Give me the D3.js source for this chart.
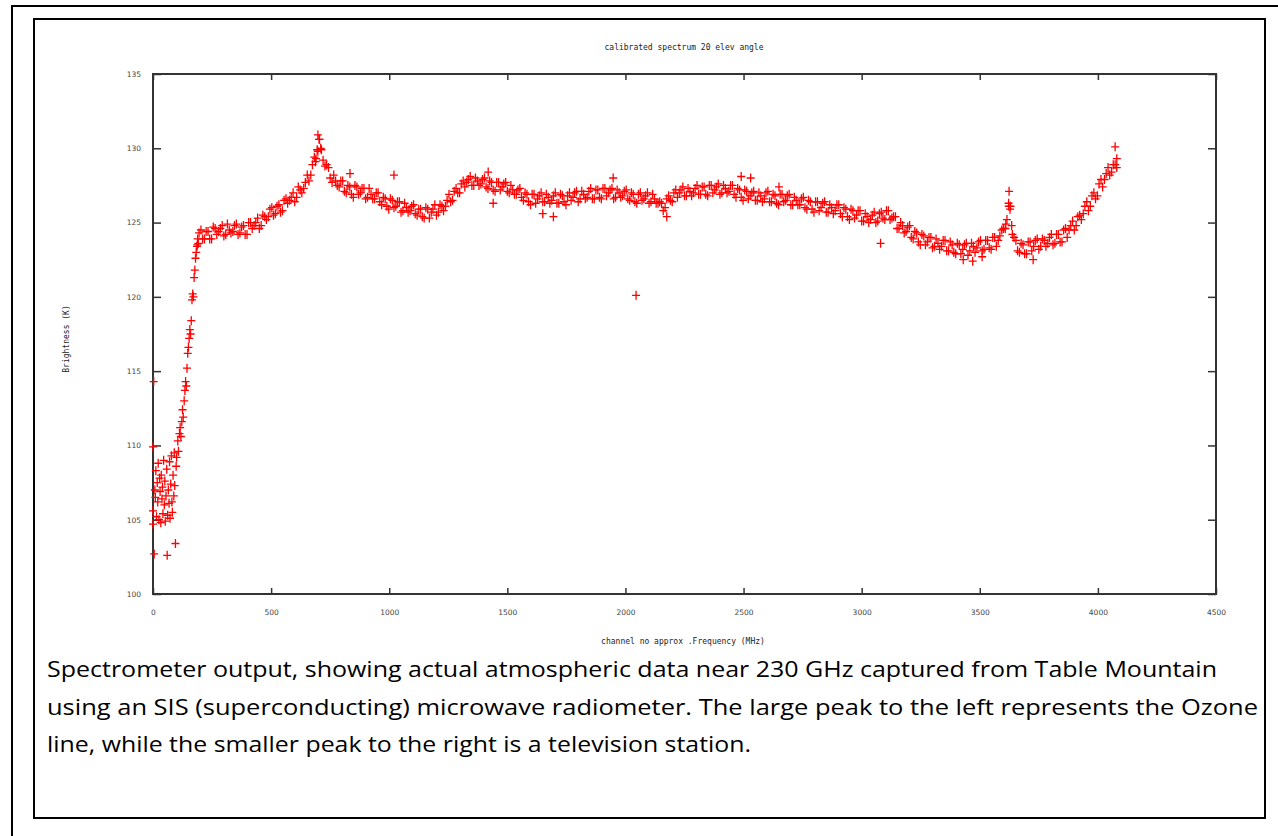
<!DOCTYPE html>
<html>
<head>
<meta charset="utf-8">
<script src="https://cdn.jsdelivr.net/npm/d3@7"></script>
<style>
  body { margin: 0; background: #fff; }
  svg { display: block; }
</style>
</head>
<body>
<div id="vis"></div>
<script>
var width = 1278;
var height = 836;

// axis ticks
var xTicks = [0, 500, 1000, 1500, 2000, 2500, 3000, 3500, 4000, 4500];
var yTicks = [100, 105, 110, 115, 120, 125, 130, 135];

// channels 0..192, the noisy low end and the steep ramp
var lowChannels = [0, 0, 0, 3, 5, 8, 10, 12, 15, 18, 20, 22, 25, 28, 30, 33, 35, 38, 40, 42,
  45, 48, 50, 52, 55, 58, 60, 62, 65, 68, 70, 72, 75, 78, 80, 82, 85, 88, 90, 92, 95, 98,
  100, 105, 108, 112, 115, 118, 122, 125, 128, 132, 135, 138, 141, 144, 147, 150, 153, 156,
  159, 162, 165, 168, 171, 174, 177, 180, 183, 186, 189, 192];
var lowBrightness = [109.9, 105.6, 104.7, 114.3, 102.7, 107.0, 106.5, 108.3, 105.2, 107.5,
  106.2, 108.8, 105.0, 107.8, 106.9, 104.8, 108.0, 106.4, 107.2, 105.4,
  109.0, 106.0, 107.6, 104.9, 106.6, 108.4, 102.6, 105.3, 107.0, 106.1,
  108.9, 105.1, 107.4, 109.3, 106.2, 105.5, 108.0, 106.6, 109.5, 107.3, 103.4, 108.6,
  109.2, 110.3, 109.6, 110.8, 111.2, 110.6, 111.6, 112.4, 111.9, 113.0, 113.7, 114.3,
  114.0, 115.2, 116.2, 116.6, 117.2, 117.8, 117.5, 118.4, 119.8, 120.2, 120.0, 121.3,
  121.8, 122.6, 123.0, 123.4, 123.9, 123.6];

// channels 195..4080, every 15th channel (ten per row)
var mainChannels = d3.range(195, 4081, 15);
var mainBrightness = [
  124.3, 123.9, 124.4, 123.9, 124.7, 124.2, 124.6, 124.1, 124.9, 124.3,
  124.8, 124.2, 124.7, 124.2, 125.0, 124.6, 125.0, 124.6, 125.5, 125.2,
  125.9, 125.5, 126.1, 125.7, 126.5, 126.3, 126.7, 126.4, 127.4, 127.0,
  127.7, 127.8, 128.9, 129.3, 130.6, 129.2, 128.9, 128.0, 128.2, 127.5,
  127.8, 127.1, 127.5, 126.9, 127.5, 126.9, 127.3, 126.6, 127.3, 126.6,
  127.0, 126.4, 126.7, 126.1, 126.6, 126.0, 126.4, 125.7, 126.3, 125.7,
  126.1, 125.6, 125.9, 125.4, 126.0, 125.3, 125.9, 125.5, 126.2, 125.8,
  126.5, 126.4, 127.1, 127.0, 127.6, 127.4, 127.9, 127.5, 128.0, 127.5,
  127.9, 127.4, 127.8, 127.2, 127.7, 127.2, 127.6, 127.1, 127.5, 126.9,
  127.2, 126.7, 127.0, 126.4, 126.9, 126.3, 126.8, 126.4, 126.9, 126.3,
  126.8, 126.3, 126.9, 126.4, 126.8, 126.5, 127.0, 126.4, 127.1, 126.6,
  127.1, 126.6, 127.2, 126.7, 127.3, 126.8, 127.2, 126.6, 127.2, 126.7,
  127.1, 126.6, 127.0, 126.4, 126.9, 126.5, 126.8, 126.3, 126.9, 126.3,
  126.4, 125.8, 126.6, 126.5, 127.0, 126.7, 127.2, 126.8, 127.3, 126.8,
  127.3, 126.9, 127.4, 126.9, 127.5, 127.0, 127.4, 126.9, 127.5, 127.0,
  127.5, 126.9, 127.3, 126.7, 127.2, 126.6, 127.0, 126.5, 127.0, 126.4,
  127.0, 126.4, 126.9, 126.3, 126.9, 126.4, 126.8, 126.2, 126.7, 126.2,
  126.6, 126.0, 126.5, 125.9, 126.4, 125.8, 126.3, 125.7, 126.2, 125.6,
  126.2, 125.6, 126.0, 125.4, 125.9, 125.3, 125.8, 125.1, 125.6, 125.0,
  125.5, 125.0, 125.6, 125.3, 125.8, 125.2, 125.4, 124.6, 125.0, 124.3,
  124.7, 124.0, 124.4, 123.7, 124.2, 123.5, 124.0, 123.3, 123.9, 123.2,
  123.8, 123.1, 123.7, 123.0, 123.6, 122.9, 123.5, 122.8, 123.6, 123.0,
  123.7, 123.1, 123.8, 123.3, 124.0, 123.4, 124.1, 124.6, 125.2, 126.1,
  124.0, 123.1, 123.6, 122.9, 123.7, 123.1, 123.8, 123.2, 123.9, 123.4,
  124.0, 123.5, 124.2, 123.7, 124.5, 124.0, 124.8, 124.5, 125.4, 125.2,
  126.1, 125.8, 126.8, 126.6, 127.6, 127.4, 128.3, 128.2, 128.9, 128.7
];

// channels 188..4073, the in-between channels (ten per row)
var midChannels = d3.range(188, 4074, 15);
var midBrightness = [
  123.5, 124.5, 123.9, 124.4, 123.9, 124.6, 124.4, 124.8, 124.2, 124.5,
  124.4, 124.9, 124.3, 124.8, 124.2, 125.0, 124.8, 125.3, 124.8, 125.4,
  125.4, 126.0, 125.6, 126.2, 125.8, 126.6, 126.5, 127.0, 126.7, 127.2,
  127.3, 128.2, 128.2, 129.4, 129.8, 129.9, 128.8, 128.7, 127.7, 127.8,
  127.4, 127.8, 127.0, 127.4, 126.7, 127.4, 127.0, 127.3, 126.7, 126.9,
  126.6, 127.0, 126.2, 126.6, 125.9, 126.5, 126.1, 126.4, 125.8, 126.0,
  125.8, 126.2, 125.5, 125.9, 125.3, 125.9, 125.7, 126.2, 125.7, 126.1,
  126.1, 126.9, 126.5, 127.3, 127.0, 127.8, 127.7, 128.1, 127.5, 127.8,
  127.6, 128.0, 127.3, 127.7, 127.1, 127.7, 127.4, 127.7, 127.0, 127.2,
  126.9, 127.3, 126.5, 126.9, 126.2, 126.9, 126.6, 127.0, 126.4, 126.7,
  126.5, 127.0, 126.3, 126.8, 126.2, 127.0, 126.7, 127.1, 126.6, 126.9,
  126.7, 127.3, 126.6, 127.2, 126.6, 127.3, 127.0, 127.3, 126.7, 127.0,
  126.8, 127.2, 126.5, 126.9, 126.3, 127.0, 126.6, 127.0, 126.4, 126.6,
  126.3, 126.3, 126.0, 126.8, 126.4, 127.2, 127.0, 127.4, 126.8, 127.1,
  127.0, 127.5, 126.9, 127.4, 126.8, 127.5, 127.2, 127.6, 127.0, 127.3,
  127.1, 127.5, 126.7, 127.2, 126.5, 127.1, 126.8, 127.1, 126.5, 126.8,
  126.6, 127.1, 126.4, 126.8, 126.2, 126.9, 126.5, 126.9, 126.2, 126.5,
  126.2, 126.7, 125.9, 126.4, 125.7, 126.4, 126.0, 126.4, 125.7, 126.0,
  125.8, 126.2, 125.4, 125.9, 125.2, 125.8, 125.5, 125.8, 125.1, 125.4,
  125.2, 125.7, 125.1, 125.7, 125.2, 125.8, 125.3, 125.4, 124.6, 124.8,
  124.4, 124.8, 123.9, 124.3, 123.5, 124.1, 123.7, 124.0, 123.4, 123.6,
  123.4, 123.8, 123.1, 123.5, 122.9, 123.5, 123.2, 123.6, 123.1, 123.4,
  123.3, 123.8, 123.2, 123.8, 123.2, 124.0, 123.8, 124.5, 124.6, 126.1,
  124.2, 123.8, 123.0, 123.5, 122.9, 123.7, 123.4, 123.9, 123.4, 123.8,
  123.6, 124.2, 123.6, 124.2, 123.7, 124.6, 124.5, 125.1, 124.8, 125.5,
  125.6, 126.4, 126.1, 127.0, 126.8, 127.9, 127.9, 128.7, 128.4, 128.9
];

// stray points and the tops of the two peaks
var extraChannels = [698, 703, 695, 710, 688, 834, 1020, 1419, 1440, 1650, 1695, 1948, 2045,
  2175, 2490, 2530, 2650, 3080, 3430, 3470, 3510, 3610, 3622, 3624, 3628, 3635, 3726, 4073, 4080];
var extraBrightness = [130.9, 130.6, 129.9, 130.0, 129.1, 128.3, 128.2, 128.4, 126.3, 125.6, 125.4,
  128.0, 120.1, 125.4, 128.1, 128.0, 127.4, 123.6, 122.5, 122.4, 122.7, 124.9, 126.3, 127.1,
  125.9, 124.8, 122.5, 130.1, 129.3];

var caption = [
  "Spectrometer output, showing actual atmospheric data near 230 GHz captured from Table Mountain",
  "using an SIS (superconducting) microwave radiometer.  The large peak to the left represents the Ozone",
  "line, while the smaller peak to the right is a television station."
];

function pairs(xs, ys) {
  return xs.map(function (c, i) { return [c, ys[i]]; });
}

function init() {
  var svg = d3.select('#vis').append('svg')
    .attr('width', width)
    .attr('height', height);

  // outer and inner page frames
  svg.append('rect').attr('x', 12).attr('y', 6).attr('width', 1300).attr('height', 900)
    .attr('fill', 'none').attr('stroke', '#000').attr('stroke-width', 2);
  svg.append('rect').attr('x', 34).attr('y', 19).attr('width', 1231).attr('height', 799)
    .attr('fill', 'none').attr('stroke', '#000').attr('stroke-width', 2);

  var plot = {left: 153, right: 1216, top: 74, bottom: 594};

  var x = d3.scaleLinear().domain([0, 4500]).range([plot.left, plot.right]);
  var y = d3.scaleLinear().domain([100, 135]).range([plot.bottom, plot.top]);

  var tickFont = '"DejaVu Sans", sans-serif';
  var fmt = d3.format('d');

  function styleAxis(g) {
    g.select('.domain').remove();
    g.selectAll('line').attr('stroke', '#333').attr('stroke-width', 1.5);
    g.selectAll('text').attr('fill', '#444').attr('font-family', tickFont).attr('font-size', 7.5);
  }

  svg.append('g').attr('transform', 'translate(0,' + plot.bottom + ')')
    .call(d3.axisBottom(x).tickValues(xTicks).tickFormat(fmt).tickSize(-6).tickPadding(16))
    .call(styleAxis);
  svg.append('g').attr('transform', 'translate(0,' + plot.top + ')')
    .call(d3.axisTop(x).tickValues(xTicks).tickSize(-6).tickFormat(''))
    .call(styleAxis);
  svg.append('g').attr('transform', 'translate(' + plot.left + ',0)')
    .call(d3.axisLeft(y).tickValues(yTicks).tickFormat(fmt).tickSize(-8).tickPadding(12))
    .call(styleAxis);
  svg.append('g').attr('transform', 'translate(' + plot.right + ',0)')
    .call(d3.axisRight(y).tickValues(yTicks).tickSize(-8).tickFormat(''))
    .call(styleAxis);

  svg.append('rect')
    .attr('x', plot.left).attr('y', plot.top)
    .attr('width', plot.right - plot.left).attr('height', plot.bottom - plot.top)
    .attr('fill', 'none').attr('stroke', '#333').attr('stroke-width', 2);

  // the measured spectrum, drawn as gnuplot style crosses
  var data = pairs(lowChannels, lowBrightness)
    .concat(pairs(mainChannels, mainBrightness))
    .concat(pairs(midChannels, midBrightness))
    .concat(pairs(extraChannels, extraBrightness));

  svg.append('g').selectAll('path')
    .data(data)
    .enter()
    .append('path')
      .attr('d', 'M-4,0H4M0,-4.5V4.5')
      .attr('stroke', '#ff0000')
      .attr('stroke-width', 1.3)
      .attr('fill', 'none')
      .attr('transform', function (d) {
        return 'translate(' + x(d[0]) + ',' + y(d[1]) + ')';
      });

  // titles
  svg.append('text')
    .attr('x', 684).attr('y', 50).attr('text-anchor', 'middle')
    .attr('font-family', '"DejaVu Sans Mono", monospace').attr('font-size', 8)
    .attr('fill', '#222')
    .text('calibrated spectrum 20 elev angle');
  svg.append('text')
    .attr('x', 683).attr('y', 644).attr('text-anchor', 'middle')
    .attr('font-family', '"DejaVu Sans Mono", monospace').attr('font-size', 8)
    .attr('fill', '#222')
    .text('channel no approx .Frequency (MHz)');
  svg.append('text')
    .attr('transform', 'translate(69,339) rotate(-90)')
    .attr('text-anchor', 'middle')
    .attr('font-family', '"DejaVu Sans Mono", monospace').attr('font-size', 8)
    .attr('fill', '#222')
    .text('Brightness (K)');

  // caption under the chart
  var capWidths = [1170, 1211, 704];
  svg.append('g').selectAll('text')
    .data(caption)
    .enter()
    .append('text')
      .attr('x', 47)
      .attr('y', function (d, i) { return 677 + i * 37.5; })
      .attr('font-family', '"Open Sans", sans-serif')
      .attr('font-size', 21)
      .attr('fill', '#000')
      .attr('textLength', function (d, i) { return capWidths[i]; })
      .attr('lengthAdjust', 'spacingAndGlyphs')
      .text(function (d) { return d; });
}

init();
</script>
</body>
</html>
